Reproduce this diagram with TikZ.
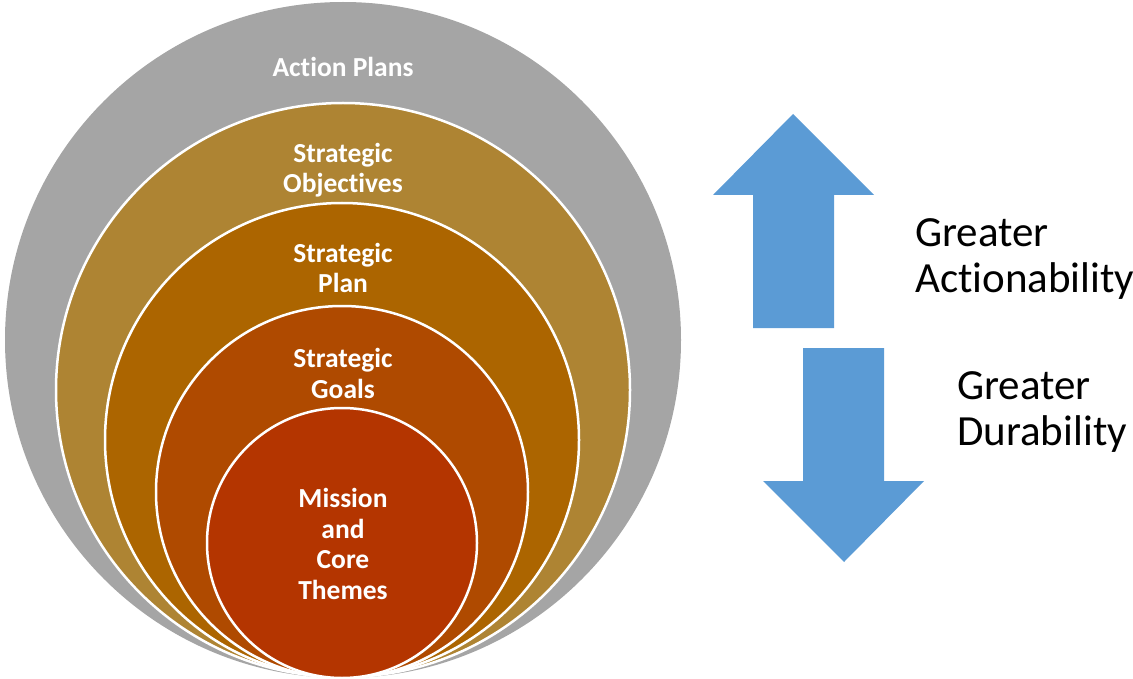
\documentclass[tikz,border=0pt]{standalone}
\usepackage{fontspec}
\setmainfont{Carlito}[Ligatures=NoCommon]
\definecolor{cgray}{HTML}{A5A5A5}
\definecolor{cgold}{HTML}{AE8433}
\definecolor{cplan}{HTML}{AC6500}
\definecolor{cgoals}{HTML}{AF4A00}
\definecolor{cmission}{HTML}{B43500}
\definecolor{carrow}{HTML}{5B9BD5}
\begin{document}
\begin{tikzpicture}[x=1pt,y=-1pt,
  ring/.style={circle, inner sep=0pt, draw=white, line width=2.5pt},
  ringlabel/.style={text=white, font=\fontsize{27.5}{30.5}\selectfont\bfseries, align=center, anchor=base, inner sep=0pt},
  sidelabel/.style={text=black, font=\fontsize{43}{46}\selectfont, align=left, anchor=base west, inner sep=0pt},
  bigarrow/.style={fill=carrow, draw=none}]
\useasboundingbox (0,0) rectangle (1133,679);
\node[ring, fill=cgray, draw=none, minimum size=676pt] (action) at (343,340) {};
\node[ring, fill=cgold, minimum size=574pt] (objectives) at (343,390) {};
\node[ring, fill=cplan, minimum size=474pt] (plan) at (342,440) {};
\node[ring, fill=cgoals, minimum size=372pt] (goals) at (342,492) {};
\node[ring, fill=cmission, minimum size=270pt] (mission) at (342,543) {};
\node[ringlabel] (lact) at (343,77) {Action Plans};
\node[ringlabel] (lobj) at (343,193) {Strategic\\Objectives};
\node[ringlabel] (lplan) at (343,293) {Strategic\\Plan};
\node[ringlabel] (lgoals) at (343,398) {Strategic\\Goals};
\node[ringlabel] (lmis) at (343,599) {Mission\\and\\Core\\Themes};
\fill[bigarrow] (793,114) -- (874,195) -- (834,195) -- (834,328) -- (753,328) -- (753,195) -- (713,195) -- cycle;
\fill[bigarrow] (844,562) -- (924,481) -- (884,481) -- (884,348) -- (803,348) -- (803,481) -- (763,481) -- cycle;
\node[sidelabel] (lup) at (915,292) {Greater\\Actionability};
\node[sidelabel] (ldown) at (957,445) {Greater\\Durability};
\end{tikzpicture}
\end{document}
